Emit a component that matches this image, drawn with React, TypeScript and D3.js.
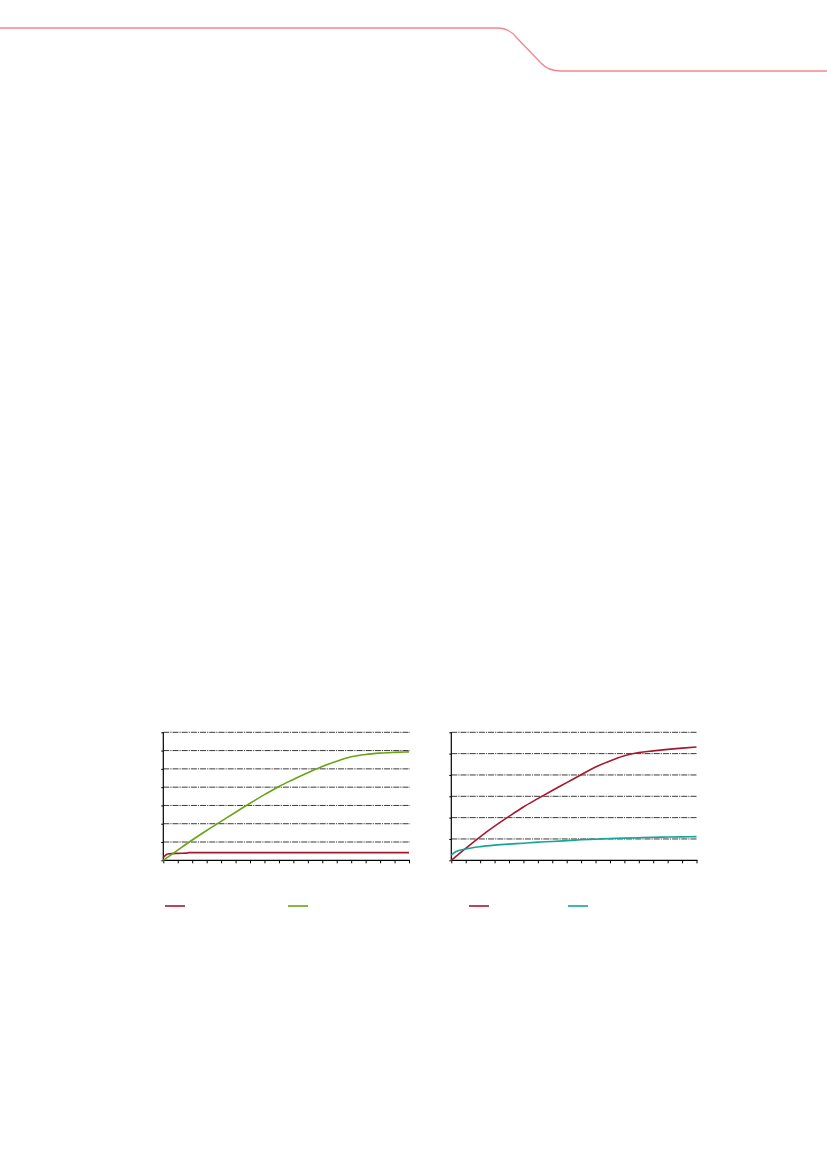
import React, { useEffect, useRef } from 'react';
import * as d3 from 'd3';

// x positions of the 18 axis steps
const steps = d3.range(0, 18);

// left chart
const leftGreen = [0, 0.56, 1.11, 1.63, 2.13, 2.63, 3.12, 3.59, 4.04, 4.42, 4.79, 5.13, 5.42, 5.66, 5.79, 5.86, 5.9, 5.93];
const leftRedX = [0, 0.3, 1, 1.6, 1.75, 17];
const leftRed = [0.15, 0.34, 0.38, 0.39, 0.42, 0.42];
const leftYTicks = [0, 1, 2, 3, 4, 5, 6, 7];

// right chart
const rightRed = [0, 0.56, 1.1, 1.6, 2.06, 2.5, 2.89, 3.27, 3.64, 4.01, 4.37, 4.66, 4.9, 5.05, 5.13, 5.2, 5.26, 5.31];
const rightTealX = [0, 0.3, 1, 2, 3, 4, 5, 6, 7, 8, 9, 10, 11, 12, 13, 14, 15, 16, 17];
const rightTeal = [0.24, 0.4, 0.53, 0.64, 0.71, 0.76, 0.8, 0.85, 0.88, 0.92, 0.96, 0.99, 1.02, 1.04, 1.06, 1.08, 1.09, 1.1, 1.11];
const rightYTicks = [0, 1, 2, 3, 4, 5, 6];

const RED = '#a5192e';
const GREEN = '#6aa316';
const TEAL = '#16a595';

interface Series {
  xs: number[];
  ys: number[];
  color: string;
}

interface Panel {
  left: number;
  right: number;
  yMax: number;
  yTicks: number[];
  series: Series[];
  legend: number[];
}

const panels: Panel[] = [
  {
    left: 163.3, right: 409, yMax: 7, yTicks: leftYTicks,
    series: [
      { xs: leftRedX, ys: leftRed, color: RED },
      { xs: steps, ys: leftGreen, color: GREEN },
    ],
    legend: [165, 288],
  },
  {
    left: 451.3, right: 696.5, yMax: 6, yTicks: rightYTicks,
    series: [
      { xs: steps, ys: rightRed, color: RED },
      { xs: rightTealX, ys: rightTeal, color: TEAL },
    ],
    legend: [469, 568],
  },
];

const App: React.FC = () => {
  const svgRef = useRef<SVGSVGElement>(null);

  useEffect(() => {
    if (!svgRef.current) return;
    const svg = d3.select(svgRef.current);
    svg.selectAll('*').remove();

    // page header rule
    svg.append('path')
      .attr('d', 'M0,28 H497 Q509,28 516,37 L541,63 Q548,71 561,71 H827')
      .attr('fill', 'none')
      .attr('stroke', '#f3858e')
      .attr('stroke-width', 1.3);

    const top = 732.3;
    const bottom = 860.3;

    panels.forEach(p => {
      const x = d3.scaleLinear().domain([0, 17]).range([p.left, p.right]);
      const y = d3.scaleLinear().domain([0, p.yMax]).range([bottom, top]);
      const g = svg.append('g');

      // grid
      g.selectAll('.grid')
        .data(p.yTicks.filter(t => t > 0))
        .enter()
        .append('line')
        .attr('x1', p.left)
        .attr('x2', p.right + 1)
        .attr('y1', d => y(d))
        .attr('y2', d => y(d))
        .attr('stroke', '#3a3a3a')
        .attr('stroke-width', 1)
        .attr('stroke-dasharray', '6,1,1.2,1');

      // y axis
      const yAxis = g.append('g')
        .attr('transform', `translate(${p.left},0)`)
        .call(d3.axisLeft(y).tickValues(p.yTicks).tickSize(2).tickFormat(() => ''));
      yAxis.select('.domain').attr('stroke', '#000').attr('stroke-width', 1.2).attr('d', `M0,${top}V${bottom}`);
      yAxis.selectAll('line').attr('stroke', '#000');

      // x axis
      const xAxis = g.append('g')
        .attr('transform', `translate(0,${bottom})`)
        .call(d3.axisBottom(x).tickValues(steps).tickSize(3).tickFormat(() => ''));
      xAxis.select('.domain').attr('stroke', '#000').attr('stroke-width', 1.2).attr('d', `M${p.left},0H${p.right + 1}`);
      xAxis.selectAll('line').attr('stroke', '#000');

      // series
      p.series.forEach((s, i) => {
        const pts = s.xs.map((v, k) => [v, s.ys[k]] as [number, number]);
        const line = d3.line<[number, number]>()
          .x(d => x(d[0]))
          .y(d => y(d[1]))
          .curve(d3.curveMonotoneX);
        g.append('path')
          .datum(pts)
          .attr('d', line)
          .attr('fill', 'none')
          .attr('stroke', s.color)
          .attr('stroke-width', 1.6);

        // legend swatch
        g.append('line')
          .attr('x1', p.legend[i])
          .attr('x2', p.legend[i] + 20)
          .attr('y1', 906)
          .attr('y2', 906)
          .attr('stroke', s.color)
          .attr('stroke-width', 1.6);
      });
    });
  }, []);

  return (
    <div style={{ position: 'absolute', left: 0, top: 0, width: 827, height: 1169, background: '#fff' }}>
      <svg ref={svgRef} width={827} height={1169} style={{ display: 'block' }} />
    </div>
  );
};

export default App;
